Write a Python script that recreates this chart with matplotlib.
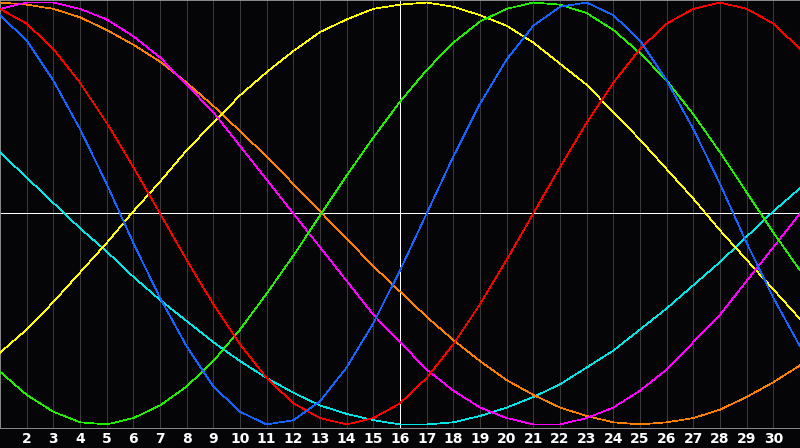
import numpy as np
import matplotlib
matplotlib.use("Agg")
import matplotlib.pyplot as plt

# days shown along the bottom
days = list(range(1, 32))
today = 16

# cycle values (percent), one per day 1..31
blue = [94, 82, 63, 40, 14, -14, -40, -63, -82, -94, -100, -98, -89, -73, -52, -27,
        0, 27, 52, 73, 89, 98, 100, 94, 82, 63, 40, 14, -14, -40, -63]
red = [97, 90, 78, 62, 43, 22, 0, -22, -43, -62, -78, -90, -97, -100, -97, -90,
       -78, -62, -43, -22, 0, 22, 43, 62, 78, 90, 97, 100, 97, 90, 78]
green = [-75, -86, -94, -99, -100, -97, -91, -82, -70, -55, -38, -20, -1, 18, 36, 53,
         68, 81, 91, 97, 100, 99, 95, 87, 76, 63, 47, 29, 10, -9, -27]
magenta = [97, 100, 100, 97, 92, 84, 74, 61, 48, 32, 16, 0, -16, -32, -48, -61,
           -74, -84, -92, -97, -100, -100, -97, -92, -84, -74, -61, -48, -32, -16, 0]
yellow = [-66, -55, -42, -28, -14, 1, 15, 30, 43, 56, 67, 77, 86, 92, 97, 99,
          100, 98, 94, 89, 81, 71, 61, 48, 35, 21, 7, -8, -22, -36, -50]
orange = [100, 99, 97, 93, 87, 80, 72, 62, 51, 39, 27, 14, 1, -12, -25, -37,
          -49, -60, -70, -79, -86, -92, -96, -99, -100, -99, -97, -93, -87, -80, -72]
cyan = [29, 17, 5, -7, -18, -30, -41, -51, -61, -70, -78, -85, -91, -95, -98, -100,
        -100, -99, -96, -92, -87, -81, -73, -65, -55, -45, -34, -23, -11, 1, 12]

series = [(cyan, '#00e6e6'), (orange, '#ff8000'), (yellow, '#ffff00'),
          (magenta, '#ff00ff'), (green, '#22ee00'), (red, '#ff0000'),
          (blue, '#1464ff')]

fig = plt.figure(figsize=(8, 4.48), dpi=100, facecolor='#050507')
ax = fig.add_axes([0, 20 / 448, 1, 428 / 448])
ax.set_facecolor('#050507')

for d in days[1:-1]:
    if d == today:
        continue
    ax.axvline(d, color='#3a3a3a', lw=0.6, antialiased=False, zorder=1)

for vals, col in series:
    ax.plot(days, vals, color=col, lw=0.5, antialiased=False, zorder=3)

ax.axvline(today, color='white', lw=0.6, antialiased=False, zorder=2)
ax.axhline(0, color='white', lw=0.6, antialiased=False, zorder=2)

ax.set_xlim(1, 31)
ax.set_ylim(-101.7, 101.2)
ax.set_yticks([])
ax.set_xticks(days[1:-1])
ax.set_xticklabels([str(d) for d in days[1:-1]], color='white',
                   fontweight='bold', fontsize=10)
ax.tick_params(axis='x', length=0, pad=3)
for s in ax.spines.values():
    s.set_color('#8c8c8c')
    s.set_linewidth(0.7)

fig.savefig('out.png', facecolor=fig.get_facecolor())
